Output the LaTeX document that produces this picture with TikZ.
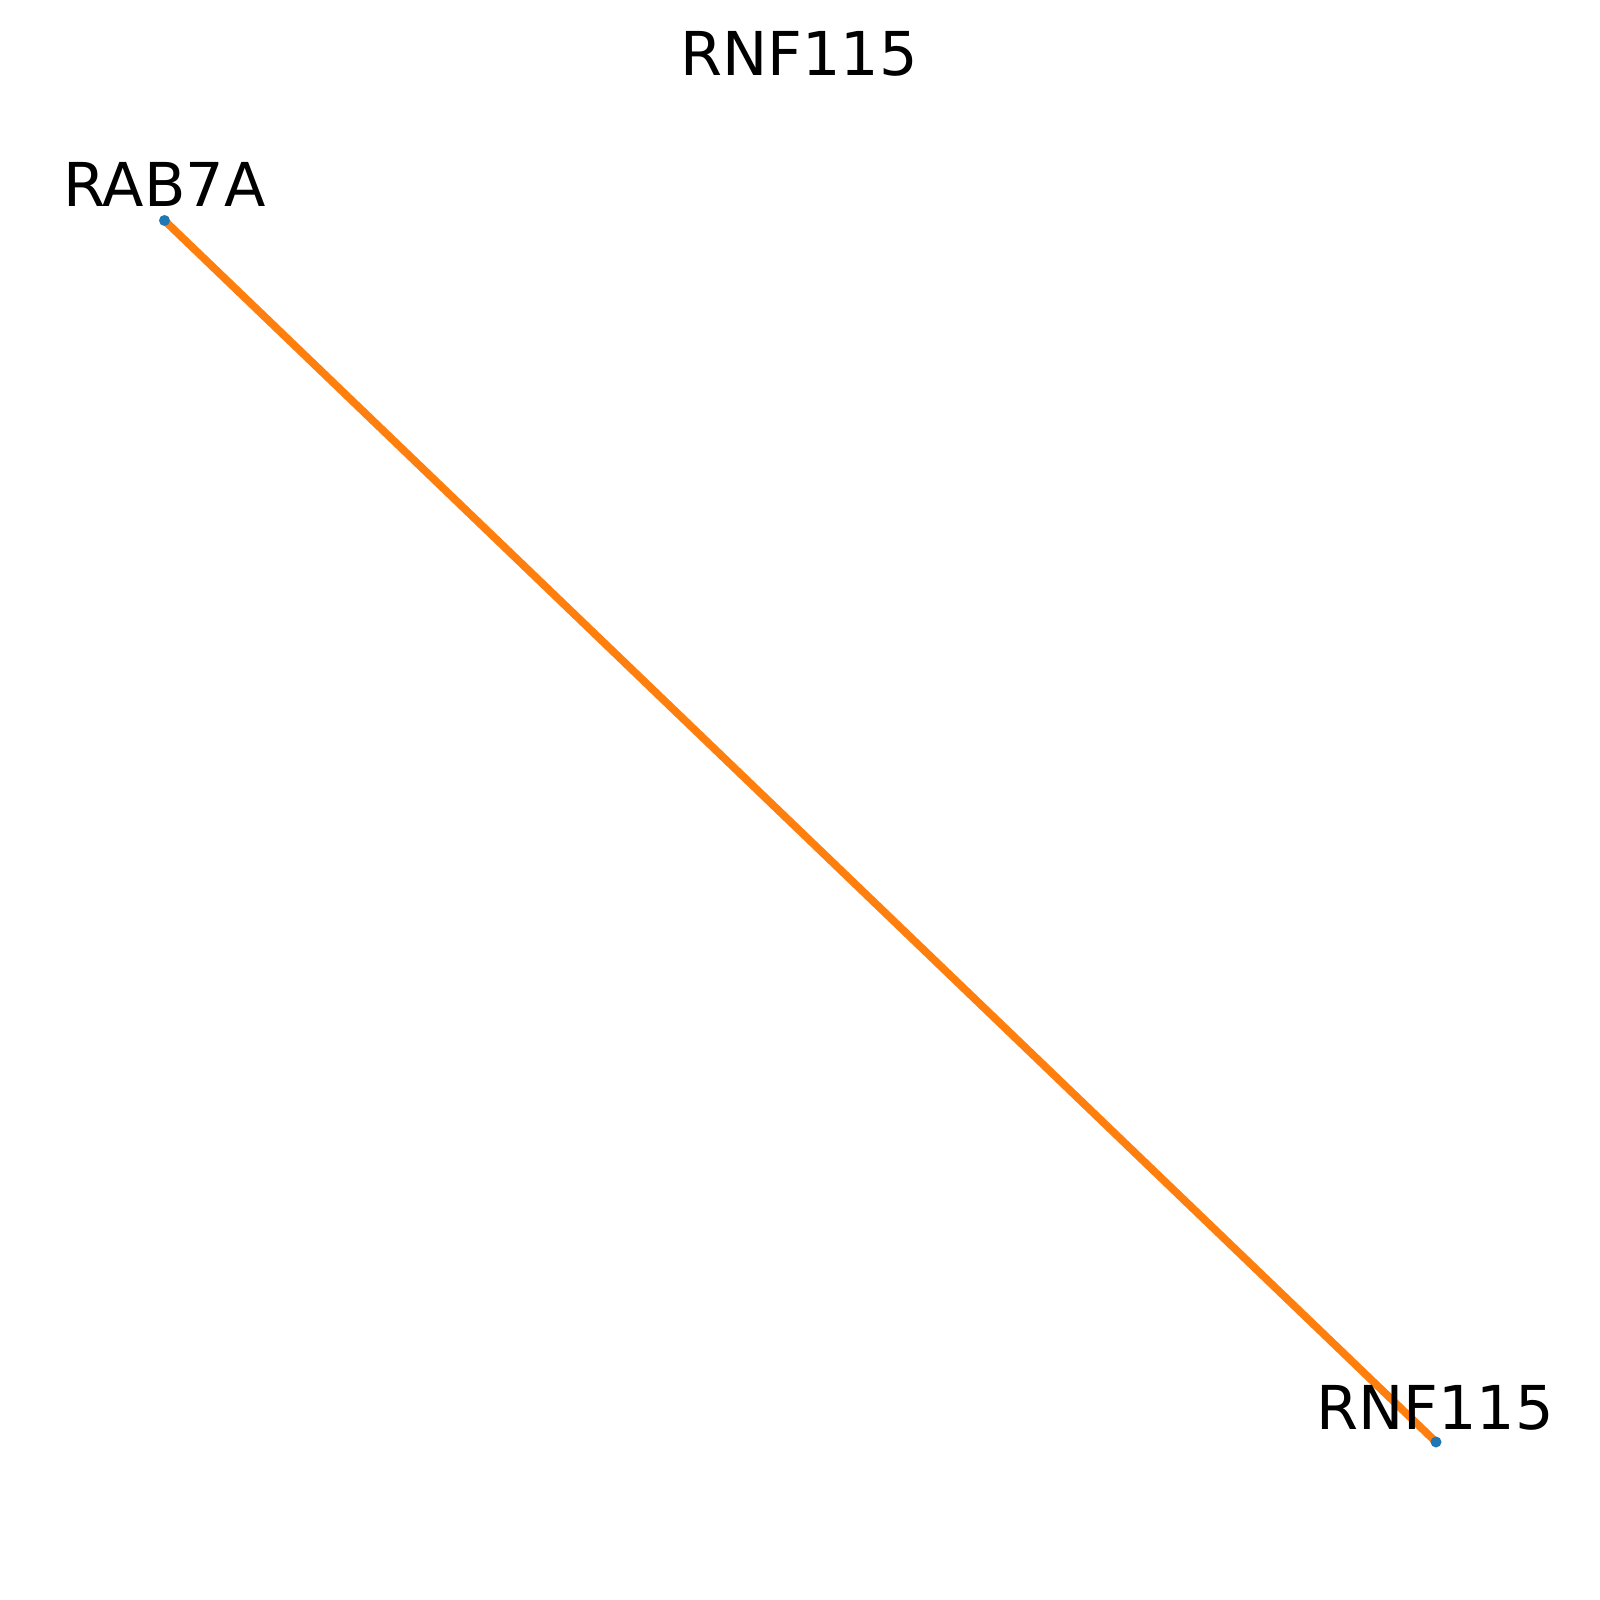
\documentclass[tikz,border=0pt]{standalone}
\usepackage{fontspec}
\setmainfont{DejaVu Sans}
\definecolor{edgeorange}{HTML}{FF7F0E}
\definecolor{nodeblue}{HTML}{1F77B4}
\begin{document}
\begin{tikzpicture}[x=0.01cm,y=-0.01cm,
  gene/.style={circle,fill=nodeblue,inner sep=0pt,minimum size=0.11cm},
  genelabel/.style={anchor=base,inner sep=0pt,font=\fontsize{17.2}{20}\selectfont},
  edge/.style={draw=edgeorange,line width=2.2pt}]
\useasboundingbox (0,0) rectangle (1600,1600);
\coordinate (a) at (164.5,220.5);
\coordinate (b) at (1436,1442);
\draw[edge] (a) -- (b);
\node[gene] (rab) at (a) {};
\node[gene] (rnf) at (b) {};
\node[genelabel] (rablabel) at (164.5,206.7) {RAB7A};
\node[genelabel] (rnflabel) at (1435,1429) {RNF115};
\node[genelabel] (title) at (799,76) {RNF115};
\end{tikzpicture}
\end{document}
